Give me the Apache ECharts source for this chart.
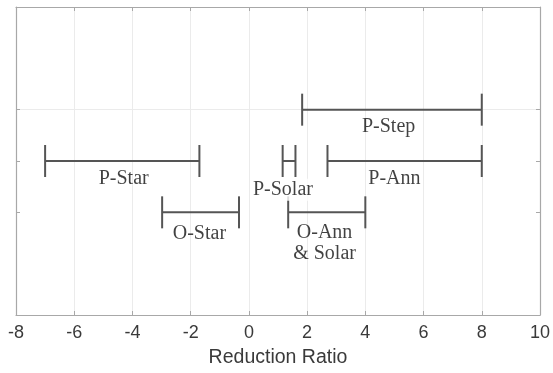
<!DOCTYPE html>
<html>
<head>
<meta charset="utf-8">
<script src="https://cdn.jsdelivr.net/npm/echarts@6/dist/echarts.min.js"></script>
<style>html,body{margin:0;padding:0;background:#fff}#c{width:553px;height:373px}</style>
</head>
<body>
<div id="c"></div>
<script>
// Intervals (reduction ratio ranges)
var names = ['P-Step', 'P-Star', 'P-Solar', 'P-Ann', 'O-Star', 'O-Ann\n& Solar'];
var yLevel = [4, 3, 3, 3, 2, 2];
var xMin = [1.83, -7.0, 1.16, 2.7, -2.98, 1.35];
var xMax = [8.0, -1.7, 1.6, 8.0, -0.34, 4.0];
// Label anchors (data units)
var labelX = [4.8, -4.3, 1.17, 5.0, -1.7, 2.6];
var labelY = [3.67, 2.65, 2.44, 2.65, 1.59, 1.39];
// Axis settings
var xTicks = [-8, -6, -4, -2, 0, 2, 4, 6, 8, 10];
var yTicks = [2, 3, 4];

var chart = echarts.init(document.getElementById('c'), null, {renderer: 'canvas'});
var axisGrey = '#a8a8a8';
var gridGrey = '#ebebeb';
var tr = 'rgba(0,0,0,0)';

var intervalData = names.map(function (n, i) { return [yLevel[i], xMin[i], xMax[i]]; });
var labelData = names.map(function (n, i) { return {value: [labelX[i], labelY[i]], name: n}; });

function yAxisCfg(pos, showGrid) {
  return {
    type: 'value', position: pos, min: 0, max: 6, interval: 1,
    axisLine: {show: true, onZero: false, lineStyle: {color: axisGrey, width: 1.2}},
    axisTick: {show: true, inside: true, length: 4, customValues: yTicks, lineStyle: {color: axisGrey}},
    axisLabel: {show: false},
    splitLine: {show: showGrid, lineStyle: {color: [tr, tr, gridGrey, gridGrey, gridGrey, tr, tr], width: 1}}
  };
}

chart.setOption({
  animation: false,
  backgroundColor: '#fff',
  grid: {left: 16, right: 8, top: 7, bottom: 53, containLabel: false},
  xAxis: [{
    type: 'value', position: 'bottom', min: -8, max: 10, interval: 2,
    name: 'Reduction Ratio', nameLocation: 'middle', nameGap: 33,
    nameTextStyle: {fontFamily: 'Liberation Sans', fontSize: 19.5, color: '#3a3a3a'},
    axisLine: {show: true, onZero: false, lineStyle: {color: axisGrey, width: 1.2}},
    axisTick: {show: true, inside: true, length: 4, lineStyle: {color: axisGrey}},
    axisLabel: {show: true, margin: 9, fontFamily: 'Liberation Sans', fontSize: 18, color: '#3a3a3a',
      formatter: function (v) { return xTicks.indexOf(v) >= 0 ? String(v) : ''; }},
    splitLine: {show: true, lineStyle: {color: gridGrey, width: 1}}
  }, {
    type: 'value', position: 'top', min: -8, max: 10, interval: 2,
    axisLine: {show: true, onZero: false, lineStyle: {color: axisGrey, width: 1.2}},
    axisTick: {show: true, inside: true, length: 4, lineStyle: {color: axisGrey}},
    axisLabel: {show: false},
    splitLine: {show: false}
  }],
  yAxis: [yAxisCfg('left', true), yAxisCfg('right', false)],
  series: [{
    type: 'custom',
    xAxisIndex: 0, yAxisIndex: 0,
    encode: {x: [1, 2], y: 0},
    data: intervalData,
    z: 2,
    renderItem: function (params, api) {
      var y = api.value(0), a = api.value(1), b = api.value(2);
      var p0 = api.coord([a, y]), p1 = api.coord([b, y]);
      var h = 16;
      var st = {stroke: '#555555', lineWidth: 2, fill: null};
      return {type: 'group', children: [
        {type: 'line', shape: {x1: p0[0], y1: p0[1], x2: p1[0], y2: p1[1]}, style: st},
        {type: 'line', shape: {x1: p0[0], y1: p0[1] - h, x2: p0[0], y2: p0[1] + h}, style: st},
        {type: 'line', shape: {x1: p1[0], y1: p1[1] - h, x2: p1[0], y2: p1[1] + h}, style: st}
      ]};
    }
  }, {
    type: 'scatter',
    xAxisIndex: 0, yAxisIndex: 0,
    symbolSize: 0,
    z: 5,
    data: labelData.map(function (d) {
      var o = {value: d.value, name: d.name};
      if (d.name === 'P-Solar') {
        o.label = {backgroundColor: '#ffffff', padding: [1, 1, 0, 1]};
      }
      return o;
    }),
    label: {
      show: true, position: 'inside', formatter: function (p) { return p.name; },
      fontFamily: 'Liberation Serif', fontSize: 20, color: '#111', lineHeight: 21
    },
    silent: true
  }]
});
</script>
</body>
</html>
